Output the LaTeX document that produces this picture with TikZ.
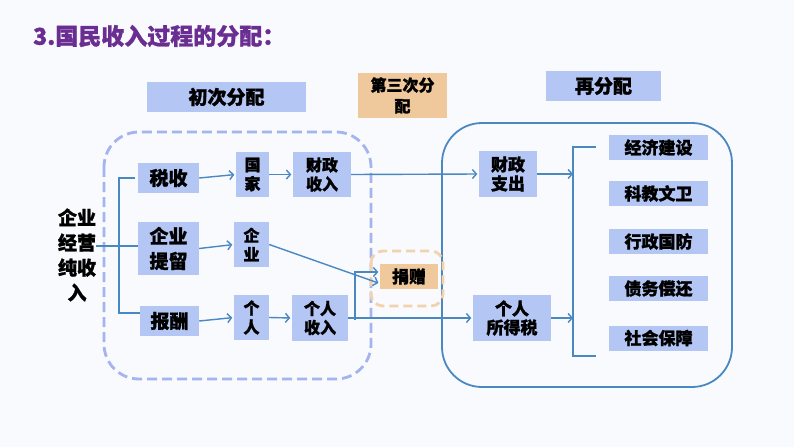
\documentclass[tikz,border=0pt]{standalone}
\usepackage{fontspec}
\setmainfont{Noto Sans CJK SC}[BoldFeatures={FakeBold=1.2}]
\usetikzlibrary{arrows.meta}
\definecolor{bg}{HTML}{F8FAFD}
\definecolor{bbox}{HTML}{B4C6F4}
\definecolor{tanbox}{HTML}{EFC89C}
\definecolor{lnc}{HTML}{4A88C2}
\definecolor{dashc}{HTML}{A4B4EE}
\definecolor{dtan}{HTML}{F2D3AE}
\definecolor{ttl}{HTML}{6A2E92}
\begin{document}
\begin{tikzpicture}[x=1pt,y=-1pt,
  bx/.style 2 args={fill=bbox,inner sep=0pt,align=center,minimum width=#1,minimum height=#2,text=black},
  fa/.style={font=\bfseries\fontsize{19}{25}\selectfont},
  fb/.style={font=\bfseries\fontsize{16}{19}\selectfont},
  fc/.style={font=\bfseries\fontsize{17}{19}\selectfont},
  ln/.style={draw=lnc,line width=1.4pt},
  arr/.style={ln,-{Straight Barb[length=4pt,width=9pt]},shorten >=1.5pt},
  ]
\fill[bg] (0,0) rectangle (794,447);
\useasboundingbox (0,0) rectangle (794,447);

% title
\node[anchor=west,text=ttl,font=\bfseries\fontsize{23}{26}\selectfont,inner sep=0pt] (title) at (33,36) {3.国民收入过程的分配：};

% headers
\node[bx={159}{30},fa] (chuci) at (226.5,97) {初次分配};
\node[bx={89}{45},fill=tanbox,font=\bfseries\fontsize{16}{21}\selectfont] (disan) at (402.5,95.5) {第三次分\\配};
\node[bx={115}{30},fa] (zai) at (603.5,86) {再分配};

% frames
\draw[dashc,line width=2.8pt,dash pattern=on 10pt off 5pt,rounded corners=35pt] (104,132) rectangle (371,379);
\draw[lnc,line width=1.8pt,rounded corners=40pt] (442,123) rectangle (732,387);
\draw[dtan,line width=2.8pt,dash pattern=on 9pt off 5pt,rounded corners=12pt] (371,251) rectangle (443,306);

% left source
\node[align=center,fa,inner sep=0pt] (src) at (77,255) {企业\\经营\\纯收\\入};

% primary boxes
\node[bx={61}{30},fa] (shui) at (168.5,178) {税收};
\node[bx={61}{53},fa] (tiliu) at (168.5,248.5) {企业\\提留};
\node[bx={59}{30},fa] (baochou) at (169.5,321) {报酬};
\node[bx={33}{45},fb] (guojia) at (252.5,174.5) {国\\家};
\node[bx={35}{45},fb] (qiye) at (251.5,244.5) {企\\业};
\node[bx={35}{45},fb] (geren) at (251.5,317.5) {个\\人};
\node[bx={58}{45},fb] (czsr) at (322,174.5) {财政\\收入};
\node[bx={56}{46},fb] (grsr) at (320,318) {个人\\收入};

% third
\node[bx={58}{25},fill=tanbox,fc] (jz) at (409,276.5) {捐赠};

% redistribution
\node[bx={58}{46},fc] (czzc) at (508,174) {财政\\支出};
\node[bx={78}{46},fc] (gds) at (512,318) {个人\\所得税};
\node[bx={99}{25},fc] (r1) at (658.5,147.5) {经济建设};
\node[bx={99}{25},fc] (r2) at (658.5,193.5) {科教文卫};
\node[bx={99}{25},fc] (r3) at (658.5,241.5) {行政国防};
\node[bx={99}{25},fc] (r4) at (658.5,288.5) {债务偿还};
\node[bx={99}{25},fc] (r5) at (658.5,338) {社会保障};

% left bracket
\coordinate (lbt) at (119,178);
\coordinate (lbb) at (119,313);
\draw[ln] (src.east |- 0,246) -- (tiliu.west |- 0,246);
\draw[ln] ([xshift=-3pt]shui.west) -- (lbt) -- (lbb) -- (baochou.west |- lbb);

% arrows
\draw[arr] (shui.east) -- (guojia.west);
\draw[arr] (tiliu.east) -- (qiye.west);
\draw[arr] (baochou.east) -- (geren.west);
\draw[arr] (guojia.east) -- (czsr.west);
\draw[arr] (geren.east) -- (grsr.west);
\draw[arr] (czsr.east) -- (czzc.west);
\draw[arr] (grsr.east) -- (gds.west);
\draw[arr] (qiye.east) -- ([yshift=-7pt]jz.west);
\coordinate (br) at (355,320);
\draw[arr] (br) |- ([yshift=4.5pt]jz.west);

% right bracket
\coordinate (rbt) at (573,147);
\coordinate (rbb) at (573,356);
\draw[arr,shorten >=0pt] (czzc.east) -- (czzc.east -| rbt);
\draw[arr,shorten >=0pt] (gds.east) -- (gds.east -| rbt);
\draw[ln] (596,147) -- (rbt) -- (rbb) -- (596,356);
\end{tikzpicture}
\end{document}
